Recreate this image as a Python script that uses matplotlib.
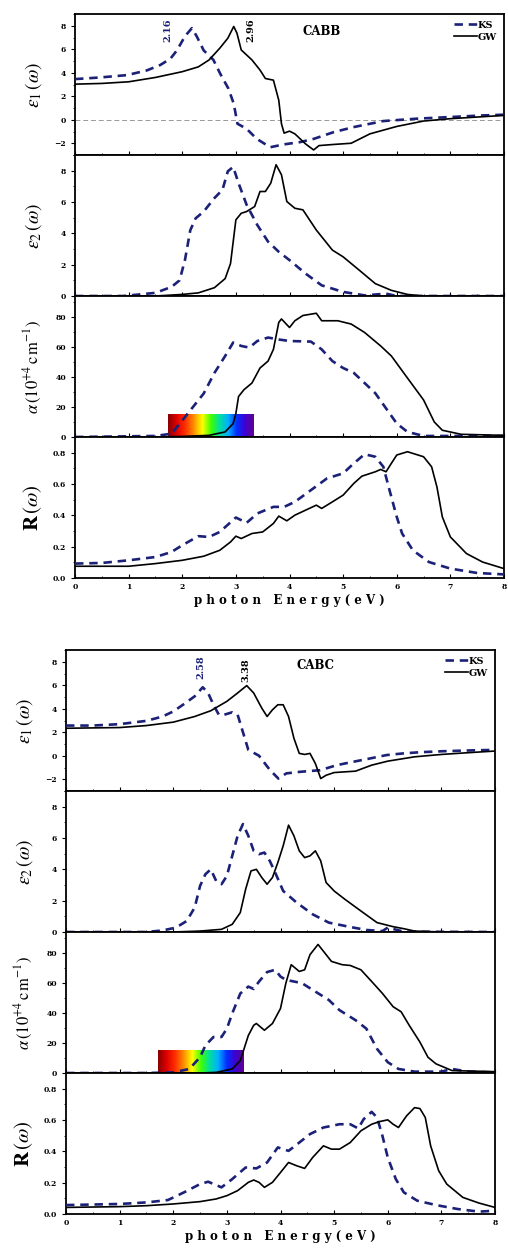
import matplotlib
matplotlib.use('Agg')
import matplotlib.pyplot as plt
import numpy as np
from matplotlib.colors import LinearSegmentedColormap
from matplotlib.ticker import MultipleLocator, FixedLocator

plt.rcParams['mathtext.fontset'] = 'stix'

# ---------------- CABB (top block) ----------------
cabb_e1_ks_x = [0, 0.47, 0.97, 1.34, 1.59, 1.78, 1.9, 2.05, 2.18, 2.27, 2.4, 2.58, 2.71, 2.86, 2.96, 3.03,
                3.2, 3.39, 3.64, 3.89, 4.2, 4.45, 4.82, 5.19, 5.75, 6.37, 6.99, 7.61, 8.0]
cabb_e1_ks_y = [3.46, 3.6, 3.8, 4.2, 4.66, 5.2, 5.9, 7.1, 7.8, 7.1, 5.9, 5.1, 3.9, 2.66, 1.37, -0.34,
                -0.77, -1.63, -2.34, -2.1, -1.9, -1.63, -1.06, -0.63, -0.11, 0.09, 0.23, 0.37, 0.43]
cabb_e1_gw_x = [0, 0.5, 1.0, 1.5, 2.0, 2.3, 2.5, 2.7, 2.85, 2.96, 3.02, 3.1, 3.3, 3.45, 3.55, 3.7, 3.8,
                3.85, 3.9, 4.0, 4.1, 4.3, 4.45, 4.55, 4.8, 5.15, 5.5, 6.0, 6.5, 7.0, 7.5, 8.0]
cabb_e1_gw_y = [3.03, 3.09, 3.23, 3.6, 4.09, 4.5, 5.09, 6.09, 6.94, 7.94, 7.37, 5.94, 5.09, 4.23, 3.51,
                3.37, 1.66, -0.34, -1.14, -0.97, -1.2, -2.06, -2.57, -2.2, -2.11, -2.0, -1.2, -0.57,
                -0.11, 0.09, 0.23, 0.37]

cabb_e2_ks_x = [0, 0.9, 1.2, 1.5, 1.8, 1.95, 2.05, 2.15, 2.25, 2.4, 2.6, 2.75, 2.85, 2.95, 3.05, 3.2,
                3.4, 3.6, 3.8, 4.0, 4.3, 4.6, 5.0, 5.4, 5.8, 6.0, 8.0]
cabb_e2_ks_y = [0, 0, 0.1, 0.2, 0.58, 1.0, 2.29, 4.2, 4.96, 5.39, 6.25, 6.78, 7.96, 8.24, 7.2, 5.82,
                4.53, 3.47, 2.82, 2.29, 1.43, 0.68, 0.26, 0.04, 0.15, 0, 0]
cabb_e2_gw_x = [0, 1.5, 2.0, 2.3, 2.6, 2.8, 2.9, 3.0, 3.1, 3.2, 3.35, 3.45, 3.55, 3.65, 3.75, 3.85,
                3.95, 4.1, 4.25, 4.5, 4.8, 5.0, 5.3, 5.6, 5.9, 6.2, 6.5, 8.0]
cabb_e2_gw_y = [0, 0, 0.1, 0.2, 0.53, 1.11, 2.07, 4.86, 5.28, 5.39, 5.71, 6.67, 6.67, 7.2, 8.38, 7.74,
                6.03, 5.6, 5.5, 4.21, 2.93, 2.5, 1.65, 0.79, 0.36, 0.1, 0, 0]

cabb_a_ks_x = [0, 1.5, 1.8, 2.0, 2.2, 2.4, 2.6, 2.8, 2.95, 3.1, 3.25, 3.4, 3.6, 3.8, 4.0, 4.4, 4.6,
               4.8, 5.0, 5.2, 5.4, 5.6, 5.8, 6.0, 6.2, 6.5, 7.0, 8.0]
cabb_a_ks_y = [0, 0.7, 2.2, 11, 20, 29, 42.7, 54, 63, 60.7, 59.6, 64, 66.3, 65, 64, 63.6, 58.4,
               50.6, 46, 42.7, 36, 29.2, 19.1, 9, 3.4, 0.7, 0.7, 0.7]
cabb_a_gw_x = [0, 1.5, 2.0, 2.5, 2.8, 2.95, 3.0, 3.05, 3.15, 3.3, 3.45, 3.6, 3.7, 3.8, 3.85, 4.0, 4.1,
               4.25, 4.5, 4.6, 4.9, 5.15, 5.4, 5.7, 5.9, 6.2, 6.5, 6.7, 6.85, 7.2, 8.0]
cabb_a_gw_y = [0, 0, 0.4, 1.1, 3.4, 9, 15.7, 27, 31.5, 36, 46, 50.6, 58.4, 76.4, 78.7, 73, 77.5,
               81, 82.5, 77.5, 77.5, 75.3, 69.7, 60.7, 54, 39.3, 24.7, 10, 4.5, 1.8, 1.1]

cabb_r_ks_x = [0, 0.5, 1.0, 1.5, 1.8, 2.0, 2.3, 2.5, 2.7, 3.0, 3.2, 3.4, 3.7, 3.9, 4.1, 4.4, 4.7,
               5.0, 5.2, 5.4, 5.6, 5.75, 5.85, 6.0, 6.1, 6.3, 6.6, 7.0, 7.5, 8.0]
cabb_r_ks_y = [0.092, 0.096, 0.113, 0.134, 0.166, 0.209, 0.267, 0.262, 0.294, 0.386, 0.352, 0.412,
               0.454, 0.454, 0.486, 0.561, 0.636, 0.668, 0.732, 0.79, 0.774, 0.71, 0.58, 0.39,
               0.284, 0.177, 0.102, 0.06, 0.032, 0.023]
cabb_r_gw_x = [0, 1.0, 1.5, 2.0, 2.4, 2.7, 2.9, 3.0, 3.1, 3.3, 3.5, 3.7, 3.8, 3.95, 4.1, 4.3, 4.5,
               4.6, 4.8, 5.0, 5.2, 5.35, 5.6, 5.7, 5.8, 5.9, 6.0, 6.2, 6.5, 6.65, 6.75, 6.85, 7.0,
               7.3, 7.6, 8.0]
cabb_r_gw_y = [0.075, 0.075, 0.092, 0.113, 0.139, 0.177, 0.23, 0.267, 0.252, 0.284, 0.294, 0.348,
               0.395, 0.365, 0.401, 0.433, 0.465, 0.444, 0.486, 0.529, 0.604, 0.65, 0.678, 0.693,
               0.678, 0.732, 0.785, 0.806, 0.774, 0.71, 0.58, 0.39, 0.262, 0.156, 0.102, 0.06]

# ---------------- CABC (bottom block) ----------------
cabc_e1_ks_x = [0, 0.5, 1.0, 1.5, 1.8, 2.0, 2.2, 2.4, 2.55, 2.65, 2.75, 2.85, 2.95, 3.1, 3.2, 3.3,
                3.4, 3.6, 3.8, 3.96, 4.11, 4.36, 4.74, 5.05, 5.36, 5.67, 5.98, 6.29, 6.6, 7.0, 7.5, 8.0]
cabc_e1_ks_y = [2.57, 2.57, 2.69, 2.97, 3.34, 3.77, 4.4, 5.06, 5.83, 5.34, 4.34, 3.49, 3.49, 3.7,
                3.5, 2.0, 0.5, 0.0, -1.2, -1.94, -1.5, -1.37, -1.23, -0.8, -0.51, -0.23, 0.06, 0.2,
                0.3, 0.38, 0.45, 0.5]
cabc_e1_gw_x = [0, 1.0, 1.5, 2.0, 2.4, 2.7, 3.0, 3.2, 3.37, 3.5, 3.65, 3.75, 3.85, 3.95, 4.05, 4.15,
                4.25, 4.35, 4.45, 4.55, 4.65, 4.75, 4.85, 5.0, 5.4, 5.7, 6.0, 6.5, 7.0, 7.5, 8.0]
cabc_e1_gw_y = [2.34, 2.4, 2.57, 2.86, 3.34, 3.83, 4.63, 5.34, 5.97, 5.34, 4.06, 3.34, 3.91, 4.34,
                4.34, 3.34, 1.49, 0.2, 0.11, 0.2, -0.66, -1.94, -1.66, -1.43, -1.31, -0.8, -0.46,
                -0.09, 0.11, 0.26, 0.4]

cabc_e2_ks_x = [0, 1.5, 1.8, 2.05, 2.25, 2.4, 2.5, 2.6, 2.7, 2.8, 2.9, 3.0, 3.1, 3.2, 3.3, 3.4, 3.5,
                3.6, 3.7, 3.8, 3.9, 4.05, 4.3, 4.6, 4.9, 5.3, 5.6, 5.9, 6.0, 6.3, 8.0]
cabc_e2_ks_y = [0, 0, 0.1, 0.28, 0.7, 1.56, 2.94, 3.69, 4.0, 3.26, 3.05, 3.58, 4.86, 6.14, 6.89,
                6.14, 5.18, 4.97, 5.07, 4.54, 3.8, 2.62, 1.88, 1.13, 0.6, 0.32, 0.13, 0.06, 0.28,
                0.02, 0]
cabc_e2_gw_x = [0, 2.0, 2.5, 2.9, 3.1, 3.25, 3.35, 3.45, 3.55, 3.65, 3.75, 3.85, 3.95, 4.05, 4.15,
                4.25, 4.35, 4.45, 4.55, 4.65, 4.75, 4.85, 5.0, 5.2, 5.5, 5.8, 6.1, 6.3, 6.5, 7.0, 8.0]
cabc_e2_gw_y = [0, 0, 0.06, 0.17, 0.49, 1.24, 2.73, 3.9, 4.0, 3.48, 3.05, 3.48, 4.43, 5.5, 6.82,
                6.14, 5.18, 4.75, 4.86, 5.18, 4.54, 3.16, 2.62, 2.09, 1.34, 0.6, 0.34, 0.21, 0.06, 0, 0]

cabc_a_ks_x = [0, 1.5, 2.0, 2.3, 2.5, 2.6, 2.75, 2.9, 3.0, 3.1, 3.25, 3.4, 3.5, 3.6, 3.75, 3.9, 4.0,
               4.1, 4.4, 4.6, 4.9, 5.1, 5.4, 5.6, 5.8, 6.0, 6.2, 6.5, 7.0, 7.2, 7.5, 8.0]
cabc_a_ks_y = [0, 0, 0.4, 2.7, 10.5, 18.4, 24, 24, 29.6, 39.7, 53, 57.6, 56, 61, 67.3, 68.8, 64.3,
               62.1, 59.9, 55.4, 48.7, 41.9, 35.2, 29.6, 16.1, 7.2, 2.7, 0.9, 0.9, 2.7, 0.9, 0.4]
cabc_a_gw_x = [0, 2.5, 2.8, 3.1, 3.25, 3.4, 3.5, 3.55, 3.7, 3.85, 4.0, 4.1, 4.2, 4.35, 4.45, 4.55,
               4.7, 4.8, 4.95, 5.15, 5.3, 5.5, 5.7, 5.9, 6.1, 6.25, 6.4, 6.6, 6.75, 6.9, 7.2, 8.0]
cabc_a_gw_y = [0, 0, 0.4, 2.7, 8.3, 25, 31.8, 33, 28.5, 33, 43, 59.9, 72.2, 67.7, 68.8, 78.9, 85.7,
               81.2, 74.4, 72.2, 71.7, 68.8, 61, 53.1, 44.2, 40.8, 31.8, 20.6, 10.5, 6.1, 1.6, 0.9]

cabc_r_ks_x = [0, 1.0, 1.5, 1.9, 2.2, 2.5, 2.65, 2.9, 3.1, 3.35, 3.55, 3.75, 3.95, 4.15, 4.35, 4.55,
               4.8, 5.1, 5.3, 5.45, 5.55, 5.7, 5.8, 5.9, 6.0, 6.15, 6.3, 6.55, 6.9, 7.3, 7.7, 8.0]
cabc_r_ks_y = [0.057, 0.064, 0.074, 0.089, 0.138, 0.191, 0.206, 0.17, 0.223, 0.297, 0.291, 0.329,
               0.425, 0.403, 0.456, 0.51, 0.552, 0.573, 0.573, 0.546, 0.605, 0.652, 0.616, 0.5,
               0.361, 0.223, 0.138, 0.085, 0.057, 0.032, 0.015, 0.021]
cabc_r_gw_x = [0, 1.0, 1.5, 2.0, 2.5, 2.8, 3.0, 3.2, 3.4, 3.5, 3.6, 3.7, 3.85, 4.0, 4.15, 4.3, 4.45,
               4.6, 4.8, 4.95, 5.1, 5.3, 5.5, 5.7, 5.85, 6.0, 6.1, 6.2, 6.35, 6.5, 6.6, 6.7, 6.8,
               6.95, 7.1, 7.4, 7.7, 8.0]
cabc_r_gw_y = [0.042, 0.047, 0.053, 0.064, 0.079, 0.096, 0.117, 0.149, 0.202, 0.217, 0.202, 0.17,
               0.202, 0.265, 0.329, 0.308, 0.291, 0.361, 0.435, 0.414, 0.414, 0.456, 0.531, 0.573,
               0.59, 0.601, 0.573, 0.552, 0.626, 0.679, 0.673, 0.616, 0.435, 0.276, 0.191, 0.106,
               0.07, 0.042]

blocks = [
    dict(name='CABB', left=75, top=14, ks_peak='2.16', gw_peak='2.96',
         ks_lab=(1.74, 7.65), gw_lab=(3.28, 7.6), name_pos=(4.6, 7.5), zero=True,
         e1=(cabb_e1_ks_x, cabb_e1_ks_y, cabb_e1_gw_x, cabb_e1_gw_y),
         e2=(cabb_e2_ks_x, cabb_e2_ks_y, cabb_e2_gw_x, cabb_e2_gw_y),
         a=(cabb_a_ks_x, cabb_a_ks_y, cabb_a_gw_x, cabb_a_gw_y),
         r=(cabb_r_ks_x, cabb_r_ks_y, cabb_r_gw_x, cabb_r_gw_y),
         spec=(1.73, 3.32)),
    dict(name='CABC', left=66, top=650, ks_peak='2.58', gw_peak='3.38',
         ks_lab=(2.52, 7.5), gw_lab=(3.36, 7.3), name_pos=(4.65, 7.7), zero=False,
         e1=(cabc_e1_ks_x, cabc_e1_ks_y, cabc_e1_gw_x, cabc_e1_gw_y),
         e2=(cabc_e2_ks_x, cabc_e2_ks_y, cabc_e2_gw_x, cabc_e2_gw_y),
         a=(cabc_a_ks_x, cabc_a_ks_y, cabc_a_gw_x, cabc_a_gw_y),
         r=(cabc_r_ks_x, cabc_r_ks_y, cabc_r_gw_x, cabc_r_gw_y),
         spec=(1.71, 3.30)),
]

W, H = 508, 1251
KS_COLOR = '#1c2178'
SERIF = 'DejaVu Serif'

spectrum = LinearSegmentedColormap.from_list('spec', ['#8a0000', '#e00000', '#ff3000', '#ff9000', '#ffff00',
                                                      '#40ff00', '#00e0a0', '#00b0ff', '#0030ff',
                                                      '#4000d0', '#600090'])

fig = plt.figure(figsize=(W / 100, H / 100), dpi=100)

panel_h = 141
for b in blocks:
    keys = ['e1', 'e2', 'a', 'r']
    ylims = [(-3, 9), (0, 9), (0, 94), (0, 0.9)]
    yticks = [[-2, 0, 2, 4, 6, 8], [0, 2, 4, 6, 8], [0, 20, 40, 60, 80], [0, 0.2, 0.4, 0.6, 0.8]]
    ylabels = [r'$\varepsilon_1\,(\omega)$', r'$\varepsilon_2\,(\omega)$',
               r'$\alpha\,(10^{+4}\,\mathrm{c\,m}^{-1})$', r'$\mathbf{R}\,(\omega)$']
    ysizes = [14, 14, 12, 15]
    for i, k in enumerate(keys):
        y_top = b['top'] + i * panel_h
        ax = fig.add_axes([b['left'] / W, 1 - (y_top + panel_h) / H, 429 / W, panel_h / H])
        ksx, ksy, gwx, gwy = b[k]
        ax.plot(ksx, ksy, color=KS_COLOR, lw=1.9, dashes=(3.2, 2.2), label='KS', zorder=3)
        ax.plot(gwx, gwy, color='black', lw=1.2, label='GW', zorder=4)
        if k == 'e1' and b['zero']:
            ax.axhline(0, color='#999999', lw=0.7, dashes=(5, 3), zorder=1)
        if k == 'a':
            x0, x1 = b['spec']
            grad = np.linspace(0, 1, 256).reshape(1, -1)
            ax.imshow(grad, cmap=spectrum, aspect='auto', extent=(x0, x1, 0, 15), zorder=2)
        ax.set_xlim(0, 8)
        ax.set_ylim(*ylims[i])
        ax.yaxis.set_major_locator(FixedLocator(yticks[i]))
        ax.xaxis.set_major_locator(MultipleLocator(1))
        ax.xaxis.set_minor_locator(MultipleLocator(0.5))
        ax.yaxis.set_minor_locator(MultipleLocator((yticks[i][1] - yticks[i][0]) / 2))
        if k == 'r':
            ax.set_yticklabels(['%.1f' % v for v in yticks[i]])
        ax.tick_params(axis='both', which='major', labelsize=5.5, length=3, width=0.8, direction='out')
        ax.tick_params(axis='both', which='minor', length=1.8, width=0.6, direction='out')
        ax.tick_params(axis='x', which='both', direction='in', top=False)
        for lab in ax.get_yticklabels() + ax.get_xticklabels():
            lab.set_fontweight('bold')
            lab.set_family(SERIF)
        if k != 'r':
            ax.tick_params(axis='x', labelbottom=False)
        else:
            ax.set_xlabel('p h o t o n   E n e r g y ( e V )', fontsize=8.5, fontweight='bold',
                          family=SERIF, labelpad=2)
        ax.set_ylabel(ylabels[i], fontsize=ysizes[i])
        ax.yaxis.set_label_coords(-0.072, 0.5)
        for s in ax.spines.values():
            s.set_linewidth(1.3)
        if k == 'e1':
            ax.text(b['name_pos'][0], b['name_pos'][1], b['name'], fontsize=8.5, fontweight='bold',
                    family=SERIF, ha='center', va='center')
            ax.text(b['ks_lab'][0], b['ks_lab'][1], b['ks_peak'], rotation=90, fontsize=7,
                    fontweight='bold', color=KS_COLOR, ha='center', va='center', family=SERIF)
            ax.text(b['gw_lab'][0], b['gw_lab'][1], b['gw_peak'], rotation=90, fontsize=7,
                    fontweight='bold', color='black', ha='center', va='center', family=SERIF)
            leg = ax.legend(loc='upper right', frameon=False, handlelength=2.4, handletextpad=0.1,
                            labelspacing=0.3, borderaxespad=0.3,
                            prop={'family': SERIF, 'weight': 'bold', 'size': 7})

fig.savefig('out.png', dpi=100)
